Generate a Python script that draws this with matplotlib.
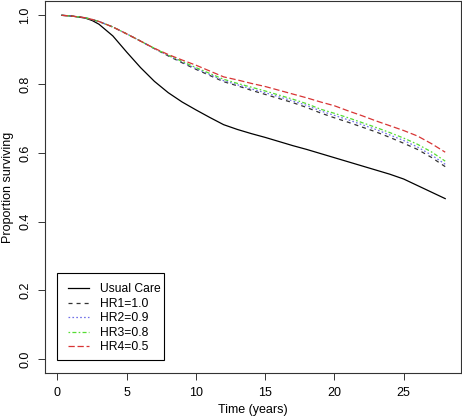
import matplotlib
matplotlib.use("Agg")
import matplotlib.pyplot as plt
from matplotlib.patches import Rectangle

plt.rcParams['font.family'] = ['Liberation Sans', 'DejaVu Sans']
plt.rcParams['lines.scale_dashes'] = False

time = [0.3, 1, 2, 2.5, 3, 4, 5, 6, 7, 8, 9, 10, 11, 12, 13, 14, 15, 16, 17, 18,
        19, 20, 21, 22, 23, 24, 25, 26, 27, 28]
usual_care = [1.0, 0.998, 0.992, 0.985, 0.974, 0.940, 0.893, 0.848, 0.808, 0.775,
              0.748, 0.725, 0.703, 0.682, 0.668, 0.656, 0.645, 0.633, 0.621, 0.610,
              0.598, 0.586, 0.574, 0.562, 0.550, 0.538, 0.524, 0.505, 0.486, 0.467]
hr1 = [1.0, 0.998, 0.993, 0.988, 0.982, 0.966, 0.946, 0.925, 0.903, 0.882,
       0.862, 0.843, 0.825, 0.807, 0.795, 0.782, 0.770, 0.758, 0.746, 0.732,
       0.716, 0.702, 0.689, 0.675, 0.661, 0.645, 0.628, 0.610, 0.587, 0.560]
hr2 = [1.0, 0.998, 0.993, 0.988, 0.982, 0.966, 0.946, 0.925, 0.903, 0.883,
       0.864, 0.845, 0.828, 0.810, 0.798, 0.786, 0.775, 0.763, 0.751, 0.738,
       0.722, 0.709, 0.696, 0.682, 0.668, 0.652, 0.636, 0.617, 0.594, 0.567]
hr3 = [1.0, 0.998, 0.993, 0.988, 0.982, 0.966, 0.946, 0.925, 0.904, 0.884,
       0.866, 0.848, 0.831, 0.814, 0.802, 0.791, 0.780, 0.768, 0.756, 0.743,
       0.727, 0.715, 0.702, 0.688, 0.674, 0.659, 0.643, 0.625, 0.603, 0.576]
hr4 = [1.0, 0.998, 0.993, 0.988, 0.982, 0.966, 0.946, 0.925, 0.904, 0.886,
       0.870, 0.855, 0.838, 0.821, 0.812, 0.802, 0.793, 0.782, 0.771, 0.760,
       0.748, 0.737, 0.722, 0.708, 0.693, 0.679, 0.665, 0.649, 0.627, 0.602]

labels = ["Usual Care", "HR1=1.0", "HR2=0.9", "HR3=0.8", "HR4=0.5"]
series = [usual_care, hr1, hr2, hr3, hr4]
colors = ["black", "#333333", "#7070e8", "#55dd33", "#d83535"]
dashes = [None, (0, (2.9, 2.9)), (0, (1.2, 1.6)), (0, (1.2, 1.6, 2.9, 1.6)), (0, (4.5, 2.0))]

fig = plt.figure(figsize=(4.62, 4.18), dpi=100)
ax = fig.add_axes([45/462, 1 - 373/418, 416/462, 372/418])

for y, lab, c, d in zip(series, labels, colors, dashes):
    ls = '-' if d is None else d
    ax.plot(time, y, color=c, linestyle=ls, linewidth=0.9, label=lab)

ax.set_xlim(-0.9, 29.14)
ax.set_ylim(-0.04, 1.0416)
ax.set_xticks([0, 5, 10, 15, 20, 25])
ax.set_yticks([0.0, 0.2, 0.4, 0.6, 0.8, 1.0])
ax.set_yticklabels(["0.0", "0.2", "0.4", "0.6", "0.8", "1.0"], rotation=90, va='center')
ax.tick_params(axis='both', direction='out', length=5, width=0.7, labelsize=9, pad=5, color='#333333')
for s in ax.spines.values():
    s.set_linewidth(0.8)
    s.set_color('#333333')
ax.set_xlabel("Time (years)", fontsize=9, labelpad=4)
ax.set_ylabel("Proportion surviving", fontsize=9, labelpad=4)

# legend frame as in the reference (R-style box)
ax.add_patch(Rectangle((12.3/416, 13/372), 107/416, 86.7/372, transform=ax.transAxes,
                       fill=True, facecolor='white', edgecolor='black', linewidth=0.8, zorder=4))
leg = ax.legend(loc='upper left', bbox_to_anchor=(23.3/416, 89.5/372), borderaxespad=0,
                borderpad=0, fontsize=8.7, frameon=False, handlelength=1.75,
                handletextpad=0.9, labelspacing=0.2)
leg.set_zorder(5)

fig.savefig("out.png", dpi=100)
